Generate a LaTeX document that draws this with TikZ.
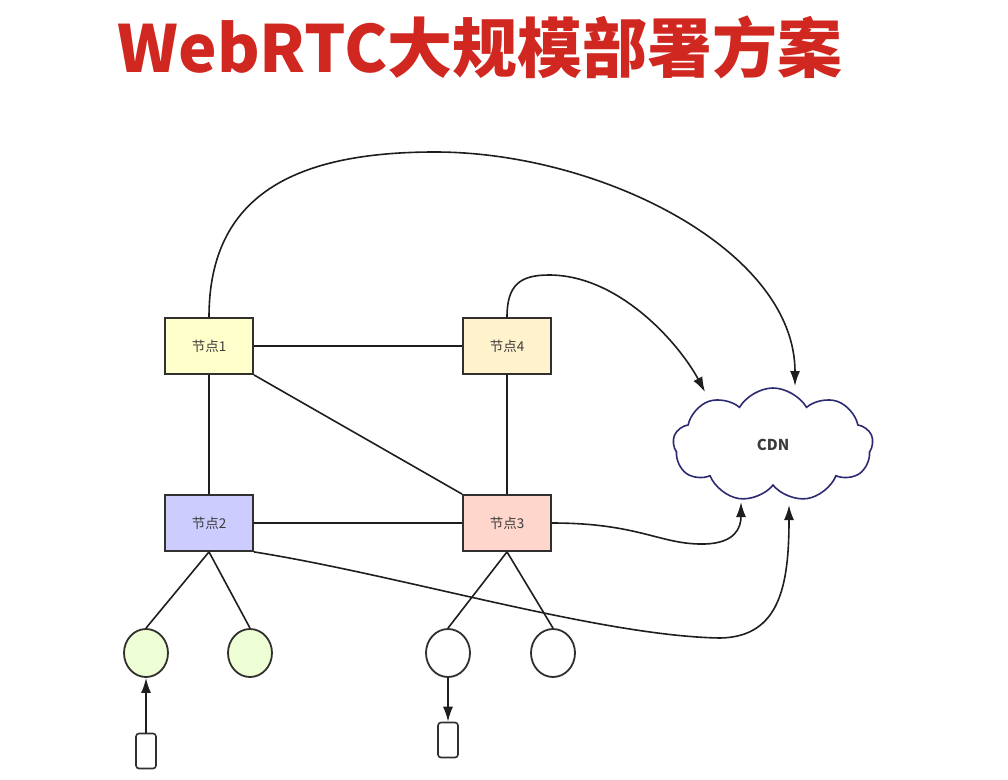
\documentclass[tikz,border=0pt]{standalone}
\usepackage{fontspec}
\setmainfont{Noto Sans CJK SC}
\usetikzlibrary{shapes.geometric,shapes.symbols,arrows.meta}
\definecolor{titlered}{RGB}{208,40,32}
\definecolor{boxline}{RGB}{50,48,46}
\definecolor{linec}{RGB}{30,30,30}
\definecolor{textgray}{RGB}{60,60,60}
\definecolor{fillA}{RGB}{255,255,204}
\definecolor{fillB}{RGB}{255,242,204}
\definecolor{fillC}{RGB}{204,204,255}
\definecolor{fillD}{RGB}{255,214,204}
\definecolor{fillG}{RGB}{238,255,214}
\definecolor{cloudc}{RGB}{44,42,112}
\begin{document}
\begin{tikzpicture}[x=1pt,y=-1pt,
  nodebox/.style={draw=boxline,line width=1.8pt,minimum width=88pt,minimum height=56pt,inner sep=0pt,font=\fontsize{13.5}{13.5}\selectfont,text=textgray},
  client/.style={ellipse,draw=boxline,line width=1.8pt,minimum width=44pt,minimum height=48pt,inner sep=0pt},
  dev/.style={draw=boxline,line width=1.6pt,rounded corners=3pt,minimum width=20pt,minimum height=35pt,inner sep=0pt},
  conn/.style={draw=linec,line width=1.6pt},
  arr/.style={conn,-{Latex[length=15pt,width=10pt]}}
]
\useasboundingbox (0,0) rectangle (1008,779);
\node[font=\fontsize{65}{65}\selectfont\bfseries,text=titlered] (title) at (480,47) {WebRTC大规模部署方案};

\node[nodebox,fill=fillA] (n1) at (209,346) {节点1};
\node[nodebox,fill=fillB] (n4) at (507,346) {节点4};
\node[nodebox,fill=fillC] (n2) at (209,523) {节点2};
\node[nodebox,fill=fillD] (n3) at (507,523) {节点3};

\node[cloud,cloud puffs=9,cloud puff arc=120,aspect=1.75,draw=cloudc,line width=1.6pt,minimum width=200pt,minimum height=114pt,inner sep=0pt,font=\fontsize{15}{15}\selectfont\bfseries,text=textgray] (cdn) at (773,445) {CDN};

\node[client,fill=fillG] (c1) at (146,653) {};
\node[client,fill=fillG] (c2) at (250,653) {};
\node[client,fill=white] (c3) at (448,653) {};
\node[client,fill=white] (c4) at (553,653) {};

\node[dev] (d1) at (146,751) {};
\node[dev] (d2) at (448,740) {};

\coordinate (cA) at (795,386);
\coordinate (cB) at (705,392);
\coordinate (cC) at (741,502);
\coordinate (cD) at (789,505);

\path[conn] (n1.east) -- (n4.west);
\path[conn] (n2.east) -- (n3.west);
\path[conn] (n1.south) -- (n2.north);
\path[conn] (n4.south) -- (n3.north);
\path[conn] (n1.south east) -- (n3.north west);

\path[conn] (n2.south) -- (c1.north);
\path[conn] (n2.south) -- (c2.north);
\path[conn] (n3.south) -- (c3.north);
\path[conn] (n3.south) -- (c4.north);

\path[arr] (d1.north) -- (c1.south);
\path[arr] (c3.south) -- (d2.north);

\path[arr] (n1.north) .. controls (209,195) and (295,152) .. (435,152) .. controls (600,152) and (795,250) .. (cA);
\path[arr] (n4.north) .. controls (507,285) and (520,275) .. (549,275) .. controls (620,275) and (680,345) .. (cB);
\path[arr] (n3.east) .. controls (640,523) and (660,545) .. (705,544) .. controls (735,543) and (741,528) .. (cC);
\path[arr] (n2.south east) .. controls (400,575) and (600,636) .. (720,638) .. controls (780,637) and (789,585) .. (cD);
\end{tikzpicture}
\end{document}
